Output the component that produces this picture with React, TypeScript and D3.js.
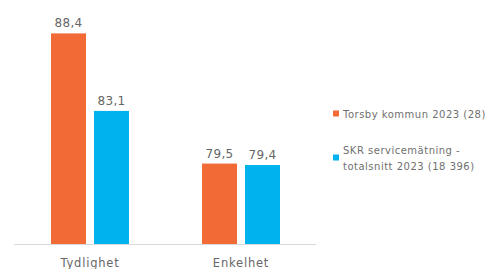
import React from "react";
import * as d3 from "d3";

const categories = ["Tydlighet", "Enkelhet"];
const seriesNames = ["Torsby kommun 2023 (28)", "SKR servicemätning - totalsnitt 2023 (18 396)"];
const legendLines = [["Torsby kommun 2023 (28)"], ["SKR servicemätning -", "totalsnitt 2023 (18 396)"]];
const torsby = [88.4, 79.5];
const skr = [83.1, 79.4];
const colors = ["#F26B36", "#00B3EE"];

const W = 492, H = 269;
const axisY = 244;
const fmt = (v: number) => v.toFixed(1).replace(".", ",");

export default function App() {
  const x0 = d3.scaleBand().domain(categories).range([14, 316]).paddingInner(0).paddingOuter(0);
  const x1 = d3.scaleBand().domain(["0", "1"]).range([37, 115]).paddingInner(0.186);
  const y = d3.scaleLinear().domain([74, 90]).range([axisY, 10]);
  const series = [torsby, skr];
  const font = "'DejaVu Sans', sans-serif";
  return (
    <svg width={W} height={H} style={{ position: "absolute", left: 0, top: 0 }}>
      <rect width={W} height={H} fill="#fff" />
      {categories.map((c, ci) => (
        <g key={c}>
          {series.map((s, si) => {
            const bx = (x0(c) as number) + (x1(String(si)) as number);
            const top = y(s[ci]);
            return (
              <g key={si}>
                <rect x={bx} y={top} width={x1.bandwidth()} height={axisY - top} fill={colors[si]} />
                <text x={bx + x1.bandwidth() / 2} y={top - 6} textAnchor="middle" fontFamily={font} fontSize={12} letterSpacing={0.3} fill="#666">
                  {fmt(s[ci])}
                </text>
              </g>
            );
          })}
          <text x={(x0(c) as number) + 76} y={267} textAnchor="middle" fontFamily={font} fontSize={11.5} letterSpacing={0.8} fill="#666">
            {c}
          </text>
        </g>
      ))}
      <line x1={14} x2={316} y1={axisY + 0.5} y2={axisY + 0.5} stroke="#d9d9d9" strokeWidth={1} />
      {seriesNames.map((n, i) => {
        const ly = i === 0 ? 114 : 150;
        return (
          <g key={n}>
            <rect x={333} y={(i === 0 ? 114 : 158) - 3.5} width={6} height={6} fill={colors[i]} />
            {legendLines[i].map((t, li) => (
              <text key={li} x={343} y={ly + li * 16 + 3.5} fontFamily={font} fontSize={10} letterSpacing={0.5} fill="#707070">
                {t}
              </text>
            ))}
          </g>
        );
      })}
    </svg>
  );
}
